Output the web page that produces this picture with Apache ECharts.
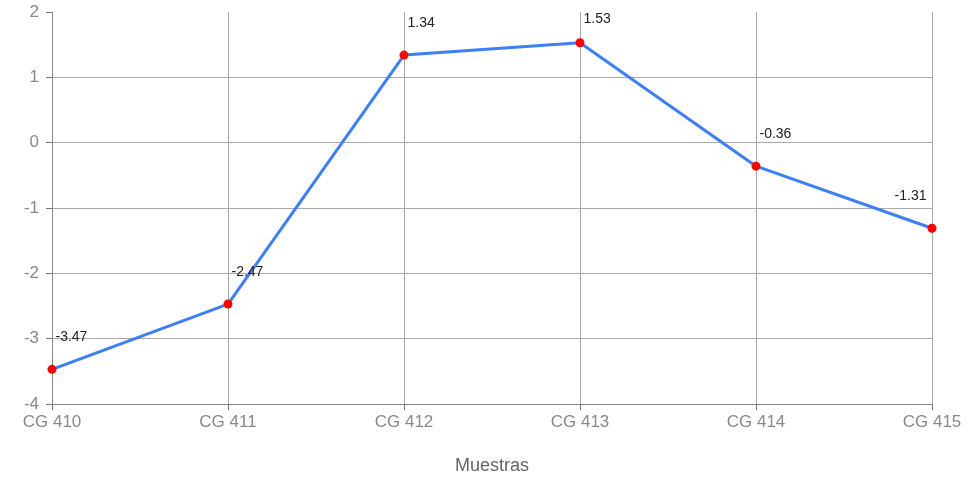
<!DOCTYPE html>
<html>
<head>
<meta charset="utf-8">
<script src="https://cdn.jsdelivr.net/npm/echarts@6/dist/echarts.min.js"></script>
<style>html,body{margin:0;padding:0;background:#fff;}#c{width:972px;height:481px;}</style>
</head>
<body>
<div id="c"></div>
<script>
const categories = ['CG 410', 'CG 411', 'CG 412', 'CG 413', 'CG 414', 'CG 415'];
const values = [-3.47, -2.47, 1.34, 1.53, -0.36, -1.31];
const xAxisName = 'Muestras';

const chart = echarts.init(document.getElementById('c'));
const FONT = '"Liberation Sans", Arial, sans-serif';
const seriesData = values.map((v, i) => {
  const item = { value: v };
  if (i === values.length - 1) {
    item.label = { position: 'left', distance: 1, offset: [0, -32] };
  } else if (i === 3) {
    item.label = { offset: [0, -24] };
  }
  return item;
});
chart.setOption({
  animation: false,
  grid: { left: 52, right: 40, top: 12, bottom: 77 },
  xAxis: {
    type: 'category',
    data: categories,
    boundaryGap: false,
    name: xAxisName,
    nameLocation: 'middle',
    nameGap: 53,
    nameTextStyle: { color: '#666', fontSize: 18, fontFamily: FONT },
    axisLine: { onZero: false, lineStyle: { color: '#888', width: 1 } },
    axisTick: { show: true, alignWithLabel: true, inside: false, length: 6, lineStyle: { color: '#777', width: 1 } },
    axisLabel: { color: '#888', fontSize: 17, fontFamily: FONT, margin: 10 },
    splitLine: { show: true, lineStyle: { color: '#aaa', width: 1 } }
  },
  yAxis: {
    type: 'value',
    min: -4,
    max: 2,
    interval: 1,
    axisLine: { show: true, onZero: false, lineStyle: { color: '#888', width: 1 } },
    axisTick: { show: true, inside: false, length: 6, lineStyle: { color: '#777', width: 1 } },
    axisLabel: { color: '#888', fontSize: 17, fontFamily: FONT, margin: 13 },
    splitLine: { show: true, lineStyle: { color: ['#aaa', '#aaa', '#aaa', '#aaa', '#aaa', '#aaa', 'rgba(0,0,0,0)'], width: 1 } }
  },
  series: [{
    type: 'line',
    data: seriesData,
    symbol: 'circle',
    symbolSize: 9,
    itemStyle: { color: '#ff0000' },
    lineStyle: { color: '#3d7ff5', width: 3 },
    label: {
      show: true,
      position: 'right',
      distance: -1,
      offset: [0, -32],
      color: '#222',
      fontSize: 14,
      fontFamily: FONT
    },
    z: 3
  }]
});
</script>
</body>
</html>
